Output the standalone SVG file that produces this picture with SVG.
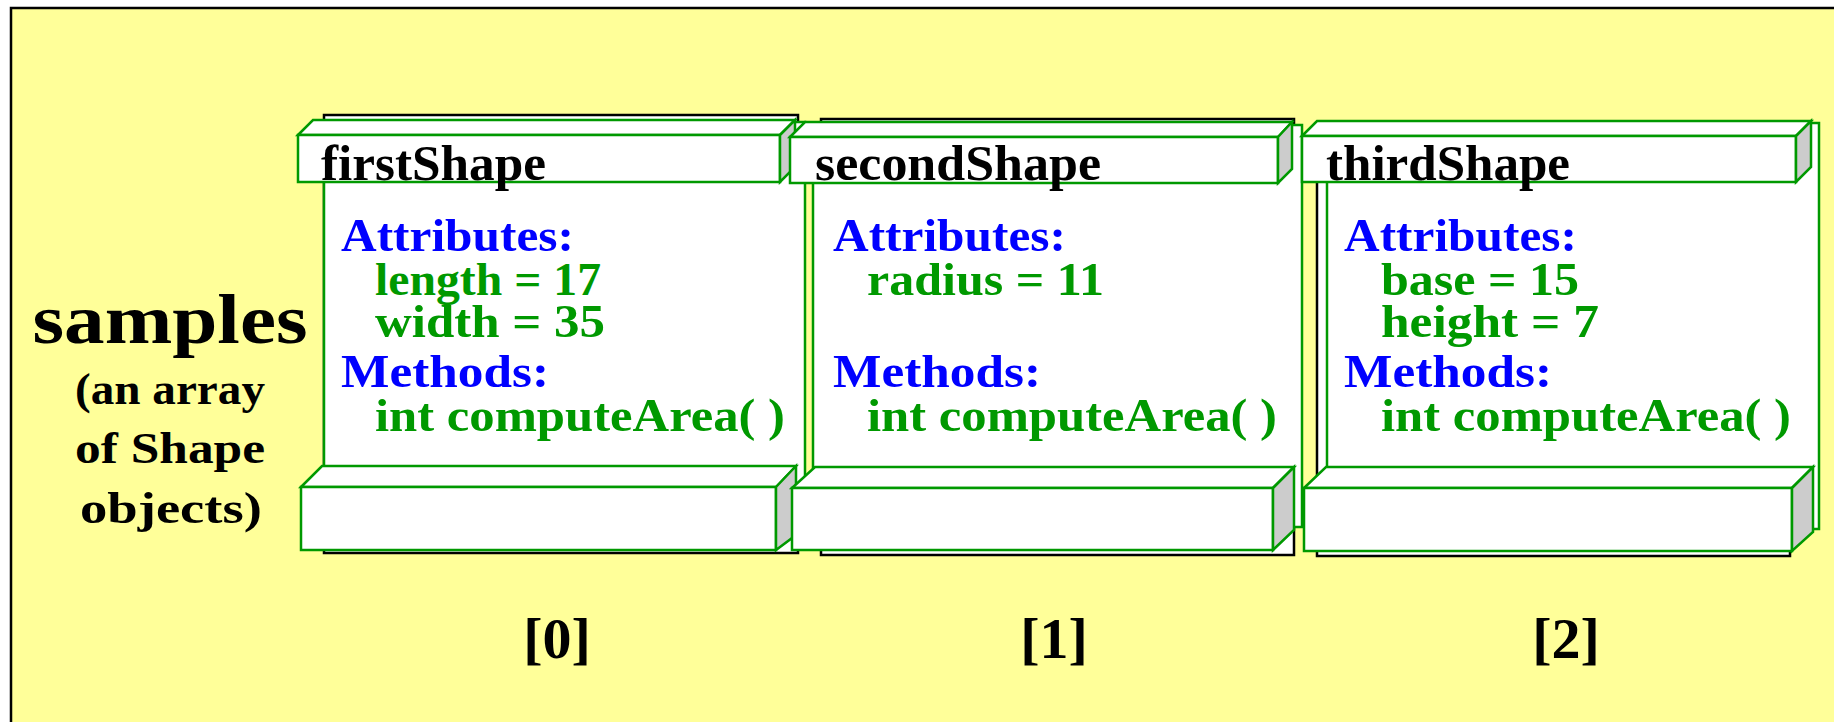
<svg xmlns="http://www.w3.org/2000/svg" width="1834" height="722" viewBox="0 0 1834 722">
<style>
.bg{fill:#FFFF99;stroke:#000;stroke-width:2.5}
.shadow{fill:#fff;stroke:#000;stroke-width:2.5}
.body{fill:#fff;stroke:#009900;stroke-width:2.5}
.face{fill:#fff;stroke:#009900;stroke-width:2.5;stroke-linejoin:miter}
.side{fill:#CCCCCC;stroke:#009900;stroke-width:2.5}
text{font-family:"Liberation Serif","Times New Roman",serif;font-weight:bold}
.title{font-size:50px;fill:#000}
.kw{font-size:47px;fill:#0000FF}
.val{font-size:47px;fill:#009900}
.big{font-size:70px;fill:#000}
.sub{font-size:44px;fill:#000}
.idx{font-size:58px;fill:#000}
</style>
<rect x="0" y="0" width="1834" height="722" fill="#fff"/>
<rect class="bg" x="11" y="8" width="1840" height="730"/>

<g id="label">
<text class="big" x="170" y="343" text-anchor="middle" textLength="275" lengthAdjust="spacingAndGlyphs">samples</text>
<text class="sub" x="170" y="404" text-anchor="middle" textLength="190" lengthAdjust="spacingAndGlyphs">(an array</text>
<text class="sub" x="170" y="463" text-anchor="middle" textLength="190" lengthAdjust="spacingAndGlyphs">of Shape</text>
<text class="sub" x="171" y="523" text-anchor="middle" textLength="182" lengthAdjust="spacingAndGlyphs">objects)</text>
</g>

<g id="shape0">
<rect class="shadow" x="324" y="115" width="474" height="438"/>
<rect class="body" x="324" y="122" width="481" height="406"/>
<polygon class="face" points="298,135 313,120 795,120 780,135"/>
<rect class="face" x="298" y="135" width="482" height="47"/>
<polygon class="side" points="780,135 795,120 795,167 780,182"/>
<polygon class="face" points="301,487 322,466 796,466 776,487"/>
<rect class="face" x="301" y="487" width="475" height="63"/>
<polygon class="side" points="776,487 796,466 796,535 776,550"/>
<text class="title" x="321" y="180" textLength="225" lengthAdjust="spacingAndGlyphs">firstShape</text>
<text class="kw" x="341" y="251" textLength="233" lengthAdjust="spacingAndGlyphs">Attributes:</text>
<text class="val" x="375" y="295" textLength="226" lengthAdjust="spacingAndGlyphs">length = 17</text>
<text class="val" x="375" y="337" textLength="230" lengthAdjust="spacingAndGlyphs">width = 35</text>
<text class="kw" x="341" y="387" textLength="208" lengthAdjust="spacingAndGlyphs">Methods:</text>
<text class="val" x="375" y="431" textLength="410" lengthAdjust="spacingAndGlyphs">int computeArea( )</text>
</g>

<g id="shape1">
<rect class="shadow" x="821" y="119" width="473" height="436"/>
<rect class="body" x="813" y="125" width="489" height="402"/>
<polygon class="face" points="790,137 805,122 1292,122 1278,137"/>
<rect class="face" x="790" y="137" width="488" height="46"/>
<polygon class="side" points="1278,137 1292,122 1292,169 1278,183"/>
<polygon class="face" points="792,488 815,467 1294,467 1273,488"/>
<rect class="face" x="792" y="488" width="481" height="62"/>
<polygon class="side" points="1273,488 1294,467 1294,530 1273,550"/>
<text class="title" x="815" y="180" textLength="286" lengthAdjust="spacingAndGlyphs">secondShape</text>
<text class="kw" x="833" y="251" textLength="233" lengthAdjust="spacingAndGlyphs">Attributes:</text>
<text class="val" x="867" y="295" textLength="237" lengthAdjust="spacingAndGlyphs">radius = 11</text>
<text class="kw" x="833" y="387" textLength="208" lengthAdjust="spacingAndGlyphs">Methods:</text>
<text class="val" x="867" y="431" textLength="410" lengthAdjust="spacingAndGlyphs">int computeArea( )</text>
</g>

<g id="shape2">
<rect class="shadow" x="1317" y="125" width="473" height="431"/>
<rect class="body" x="1327" y="123" width="492" height="406"/>
<polygon class="face" points="1302,136 1317,121 1811,121 1796,136"/>
<rect class="face" x="1302" y="136" width="494" height="46"/>
<polygon class="side" points="1796,136 1811,121 1811,167 1796,182"/>
<polygon class="face" points="1304,488 1326,467 1813,467 1792,488"/>
<rect class="face" x="1304" y="488" width="488" height="63"/>
<polygon class="side" points="1792,488 1813,467 1813,532 1792,551"/>
<text class="title" x="1326" y="180" textLength="244" lengthAdjust="spacingAndGlyphs">thirdShape</text>
<text class="kw" x="1344" y="251" textLength="233" lengthAdjust="spacingAndGlyphs">Attributes:</text>
<text class="val" x="1381" y="295" textLength="198" lengthAdjust="spacingAndGlyphs">base = 15</text>
<text class="val" x="1381" y="337" textLength="218" lengthAdjust="spacingAndGlyphs">height = 7</text>
<text class="kw" x="1344" y="387" textLength="208" lengthAdjust="spacingAndGlyphs">Methods:</text>
<text class="val" x="1381" y="431" textLength="410" lengthAdjust="spacingAndGlyphs">int computeArea( )</text>
</g>

<g id="indices">
<text class="idx" x="557" y="658" text-anchor="middle">[0]</text>
<text class="idx" x="1054" y="658" text-anchor="middle">[1]</text>
<text class="idx" x="1566" y="658" text-anchor="middle">[2]</text>
</g>
</svg>
